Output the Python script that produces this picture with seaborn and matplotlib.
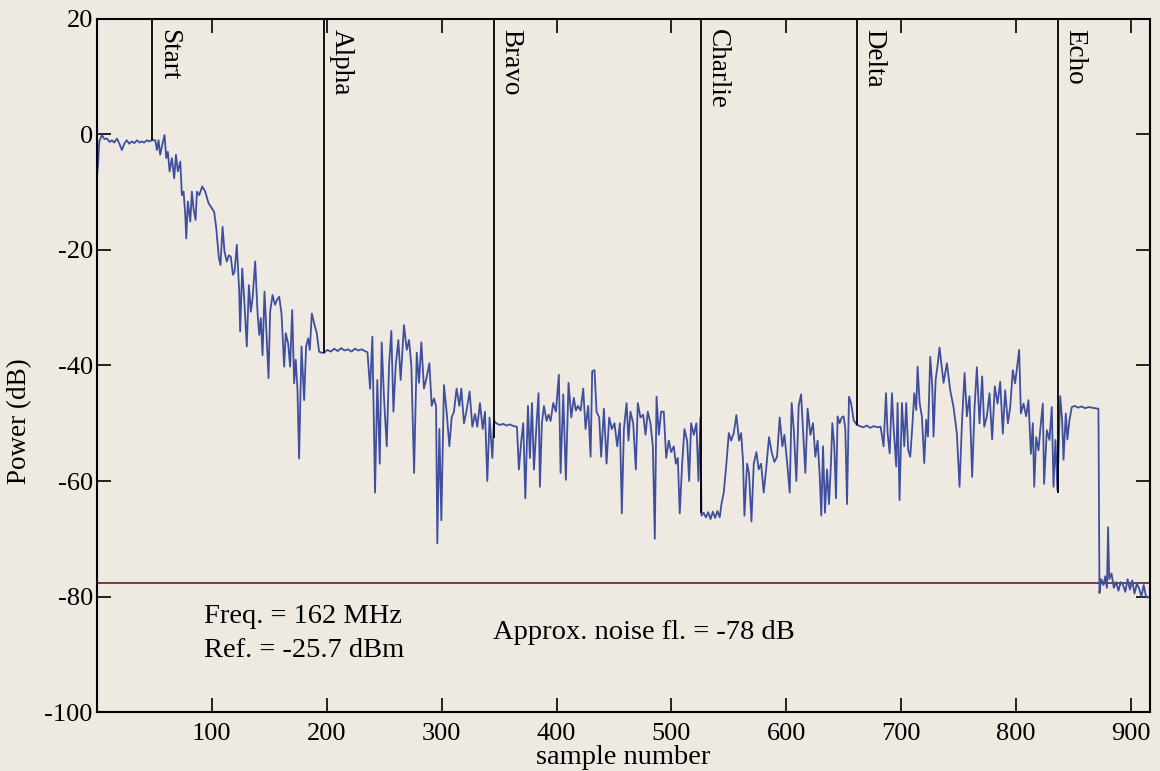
import matplotlib
matplotlib.use("Agg")
import pandas as pd
import matplotlib.pyplot as plt
import seaborn as sns

sample = [
    0, 1, 2, 4.3, 6.5, 8.7, 11, 13, 15, 17.4, 19.5, 21.7, 24, 26, 28, 30.4, 32.5, 34.8, 37, 39,
    41, 43.5, 45.5, 47.8, 50.7, 52.2, 53.6, 55, 57.1, 58.8, 60.3, 61.7, 63.2, 65.2, 67.2, 68.7,
    70.4, 72.5, 73.9, 75.4, 76.8, 77.7, 79.1, 81.2, 82.6, 84, 85.8, 87, 89, 91.6, 94.2, 97.1,
    100, 102, 103.8, 106.1, 107.5, 109.3, 111, 113, 114.8, 116.5, 118.3, 119.7, 121.7, 123.8,
    124.6, 126.4, 128.1, 130.4, 132.2, 133.9, 135.4, 137.7, 139.7, 141.2, 142.6, 144.1, 145.8,
    147.2, 149.3, 150.7, 152.8, 155, 156.5, 158.6, 160.6, 162.9, 164.3, 166.4, 168.1, 169.9,
    171.6, 173, 174.5, 175.9, 178, 180.3, 182, 183.8, 185.2, 187, 189, 191.3, 193.3, 195.4,
    197.7, 200.5, 203.5, 206.5, 209.5, 212.5, 215.5, 218.5, 221.5, 224.5, 227.5, 230.5, 233,
    235.4, 237.7, 239.7, 242, 244, 246.1, 247.8, 249.9, 252.2, 254.2, 256.2, 258, 260, 262.3,
    264.3, 267.2, 269.6, 271.6, 273.6, 276, 278.3, 280.3, 282.3, 284.6, 287, 289.3, 291.3,
    293.3, 295.1, 296.2, 298, 299.7, 302, 304.3, 306.7, 308.7, 310.7, 313, 315.4, 317.1, 319.4,
    321.5, 324.3, 326.7, 329, 331, 333.3, 335.7, 337.7, 339.7, 341.7, 344.1, 345.5, 347.5,
    350.5, 353.5, 356.5, 359.5, 362.5, 365.5, 367.2, 369.3, 371, 372.8, 375.1, 376.8, 378.6,
    380.3, 382.6, 384.3, 385.5, 387.2, 389, 391.3, 393, 394.8, 397.1, 399.4, 402, 403.5, 405.8,
    408.1, 410.4, 412.8, 415, 416.8, 418.5, 420.9, 423.2, 425.2, 427.5, 429.6, 431, 433, 434.8,
    437.1, 438.8, 441.2, 443.5, 445.8, 448.1, 450.4, 452.8, 455.1, 456.8, 458.6, 460.9, 462.6,
    464.3, 466.7, 469, 470.7, 473, 475.4, 477.4, 479.4, 481.7, 483.8, 485.5, 487, 489, 491,
    493.3, 495.4, 497.7, 499.7, 502, 503.8, 505.5, 507.2, 509.3, 511.3, 513.6, 515.4, 517.1,
    519.4, 521.7, 523.5, 525.2, 526.1, 528, 530, 532, 534, 536, 538, 540, 542, 543.5, 545.5,
    547.8, 549.9, 551.9, 554.2, 556.5, 558.8, 560.6, 562.3, 563.5, 565.8, 567.5, 569.6, 571.6,
    573.9, 575.9, 578, 580.3, 582.6, 584.9, 587.2, 589.6, 591.9, 594.2, 596.5, 598.3, 600.6,
    602.9, 604.6, 606.4, 608.7, 610.7, 612.8, 616.5, 618.5, 620.9, 623.2, 625.2, 627.2, 629,
    630.4, 631.9, 633.6, 635.4, 637.1, 638.8, 640, 641.7, 643.2, 644.6, 646.4, 648.1, 649.8,
    651.3, 652.8, 654.5, 656.3, 658.6, 661.4, 664, 667, 670, 673, 676, 679, 682, 684.6, 686.7,
    688.1, 689.9, 691.9, 693.3, 695.6, 696.8, 698.5, 700.6, 702.6, 704.3, 706, 707.8, 709.6,
    711.3, 713, 714.2, 716, 718, 720, 721.7, 723.2, 725.2, 727, 728.1, 729.9, 731.6, 733.3,
    736.8, 739.7, 742.6, 745.5, 748.4, 750.7, 752.8, 755.1, 757.1, 759.4, 761.7, 763.8, 765.8,
    768.1, 770.4, 772.2, 774.5, 776.8, 779.1, 781.4, 783.8, 786.1, 788.4, 790.4, 792.8, 794.8,
    797.1, 799.1, 801.2, 802.6, 804.1, 806.4, 808.7, 810.7, 812.8, 814.5, 815.7, 817.4, 819.4,
    821.5, 823.2, 824.3, 826.7, 829, 831, 832.5, 834.2, 835.9, 838.3, 840, 841.2, 843.2, 844.6,
    846.4, 848.4, 851, 854, 857, 860, 863, 866, 869, 871.6, 872.5, 874, 876, 877.5, 879, 880,
    881, 883, 885, 887, 889, 891, 893, 895, 897, 899, 901, 903, 905, 907, 909, 911, 913, 914,
    916,
]
power_db = [
    -7.5, -5, -1.2, -0.1, -0.8, -0.7, -1.3, -1, -1.4, -0.7, -1.6, -2.7, -1.5, -1, -1.6, -1.2,
    -1.5, -1, -1.4, -1.2, -1.4, -1, -1.2, -1, -1, -2.7, -1, -3.5, -1.5, -0.1, -4.1, -3, -6.4,
    -4.1, -7.6, -3.5, -6.4, -4.7, -10.5, -9.9, -13.9, -18, -11.6, -15.1, -9.9, -12.8, -14.8,
    -9.9, -10.5, -9, -9.9, -11.9, -12.8, -13.4, -16.2, -21.4, -22.6, -16, -20.3, -22, -20.9,
    -21.2, -24.3, -23.8, -19.1, -27.2, -34.1, -23.2, -28.4, -36.7, -26.1, -30.7, -28.4, -22,
    -30.7, -34.7, -31.8, -38.2, -27.2, -33, -42.2, -30.7, -27.8, -29.5, -28.7, -28.1, -31,
    -40.2, -34.4, -36.2, -40.2, -30.4, -43.1, -39, -44.2, -56.1, -36.7, -46, -36.7, -35.3,
    -37.3, -31, -32.7, -34.4, -37.6, -37.8, -37.8, -37.3, -37.6, -37.1, -37.5, -37, -37.4,
    -37.2, -37.6, -37.1, -37.4, -37.2, -37.5, -37.7, -44, -35, -62, -42.5, -57, -36, -46, -54,
    -40, -34, -48, -40, -35.6, -42.5, -33, -37.3, -35.6, -40, -58.6, -37.8, -43, -36, -44, -42,
    -39.6, -47, -45.7, -47, -70.8, -51, -66.8, -43.4, -48, -54, -49, -48, -44, -47, -44, -50,
    -48, -44.5, -50.6, -48.4, -50.6, -46.5, -51, -48, -60, -49, -56, -49.5, -50, -50.3, -50.1,
    -50.4, -50.2, -50.5, -50.6, -58, -53, -50, -63, -47, -56, -46.5, -58, -50, -44.8, -61, -50,
    -47, -49.6, -48.5, -49.6, -46.5, -48, -41.6, -58.6, -45, -59.8, -43, -49, -45.6, -47.8,
    -47, -47.8, -44, -51, -47, -55.8, -41, -40.8, -48, -49, -55.8, -47.5, -57, -49, -51, -50,
    -54, -50, -65.6, -51, -46.5, -53, -48, -50, -58, -46.5, -49, -48.5, -52, -48, -50, -54,
    -70, -45.4, -52, -48, -48, -56, -53, -55, -54, -57, -56, -65.6, -57, -51, -53, -60, -50,
    -52, -50, -60, -49, -66, -65.5, -66.3, -65.4, -66.6, -65.3, -66.4, -65.2, -66.3, -64, -62,
    -57, -51.7, -53, -51.7, -48.6, -53, -51.7, -56.6, -66, -57, -58.7, -67, -57, -55, -58, -57,
    -62, -57.5, -52.4, -55, -56.7, -55.8, -49, -54, -52, -56.6, -62, -46.5, -51, -60, -47, -45,
    -58.6, -47.5, -52, -50, -55.8, -53, -59, -66, -54, -65.5, -58, -64, -57, -50, -54, -63,
    -48.8, -50, -49, -48.8, -51, -64, -45.4, -46.5, -49.5, -50.3, -50.5, -50.7, -50.4, -50.8,
    -50.5, -50.7, -50.6, -54, -44.8, -51.7, -55.2, -44.8, -50.6, -57.5, -46.5, -63.3, -46.5,
    -54, -46.5, -54.6, -55.8, -50.6, -44.8, -47.7, -40.2, -46.5, -48.9, -56.9, -49.4, -52.3,
    -38.5, -43.7, -52.3, -42.5, -40, -36.9, -43, -39.6, -44.3, -47.2, -51.8, -61, -50, -41.3,
    -48.8, -45.3, -59.3, -47.2, -40.3, -50, -41.9, -50.6, -48.8, -44.8, -52.8, -43.6, -46.6,
    -42.8, -51.8, -44.3, -50, -47.2, -40.8, -43.1, -39.6, -37.3, -48.3, -46.6, -48.8, -46,
    -55.3, -50, -61, -52.4, -54.7, -50, -46.6, -60.5, -51.2, -52.9, -47.2, -61, -52.9, -61.6,
    -45.3, -49.4, -56.3, -48.3, -52.8, -49.4, -47.2, -47, -47.3, -47.1, -47.4, -47.2, -47.3,
    -47.4, -47.5, -79.4, -77, -78, -76.5, -78.5, -68, -77, -76, -78.5, -77.5, -79, -77.5, -78,
    -79.2, -77, -78.8, -77.2, -79.5, -77.8, -78.6, -80, -78, -80, -80.2, -80,
]

# event markers: position, label, and where the marker meets the trace
marker_names = ["Start", "Alpha", "Bravo", "Charlie", "Delta", "Echo"]
marker_pos = [47.8, 198.0, 345.5, 526.0, 661.4, 836.8]
marker_bottom = [-1.0, -37.8, -52.5, -65.5, -50.3, -62.0]

noise_floor = -77.7
x_ticks = [100, 200, 300, 400, 500, 600, 700, 800, 900]
y_ticks = [-100, -80, -60, -40, -20, 0, 20]

BG = "#eeeae1"
TRACE = "#3f4f9e"

sns.set_theme(style="ticks")
plt.rcParams["font.family"] = ["Liberation Serif", "DejaVu Serif"]
plt.rcParams["axes.unicode_minus"] = False
plt.rcParams["text.color"] = "black"
plt.rcParams["axes.labelcolor"] = "black"

df = pd.DataFrame({"sample": sample, "power": power_db})

fig, ax = plt.subplots(figsize=(11.6, 7.71), dpi=100)
fig.patch.set_facecolor(BG)
ax.set_facecolor(BG)
fig.subplots_adjust(left=0.0836, right=0.9914, top=0.9754, bottom=0.0765)

ax.axhline(noise_floor, color="#6a3040", lw=1.3, zorder=1)
sns.lineplot(data=df, x="sample", y="power", estimator=None, sort=False,
             color=TRACE, lw=1.3, ax=ax, zorder=2)

ax.vlines(marker_pos, marker_bottom, 20, color="black", lw=1.3, zorder=3)
for name, pos in zip(marker_names, marker_pos):
    ax.text(pos + 3.5, 18.3, name, rotation=270, ha="left", va="top", fontsize=19.5)

ax.text(93, -83.4, "Freq. = 162 MHz", fontsize=20.5, va="center")
ax.text(93, -89.3, "Ref. = -25.7 dBm", fontsize=20.5, va="center")
ax.text(345, -86.3, "Approx. noise fl. = -78 dB", fontsize=20.5, va="center")

ax.set_xlim(0, 916.5)
ax.set_ylim(-100, 20)
ax.set_xticks(x_ticks)
ax.set_yticks(y_ticks)
ax.tick_params(direction="in", length=10, width=1.2, top=True, right=True,
               labelsize=19, colors="black", pad=3)
ax.tick_params(axis="x", pad=8)
for sp in ax.spines.values():
    sp.set_color("black")
    sp.set_linewidth(1.5)

ax.set_xlabel("sample number", fontsize=20.5)
ax.set_ylabel("Power (dB)", fontsize=19.5)
ax.xaxis.set_label_coords(0.5, -0.048)
ax.yaxis.set_label_coords(-0.062, 0.42)

fig.savefig("out.png", dpi=100, facecolor=BG)
